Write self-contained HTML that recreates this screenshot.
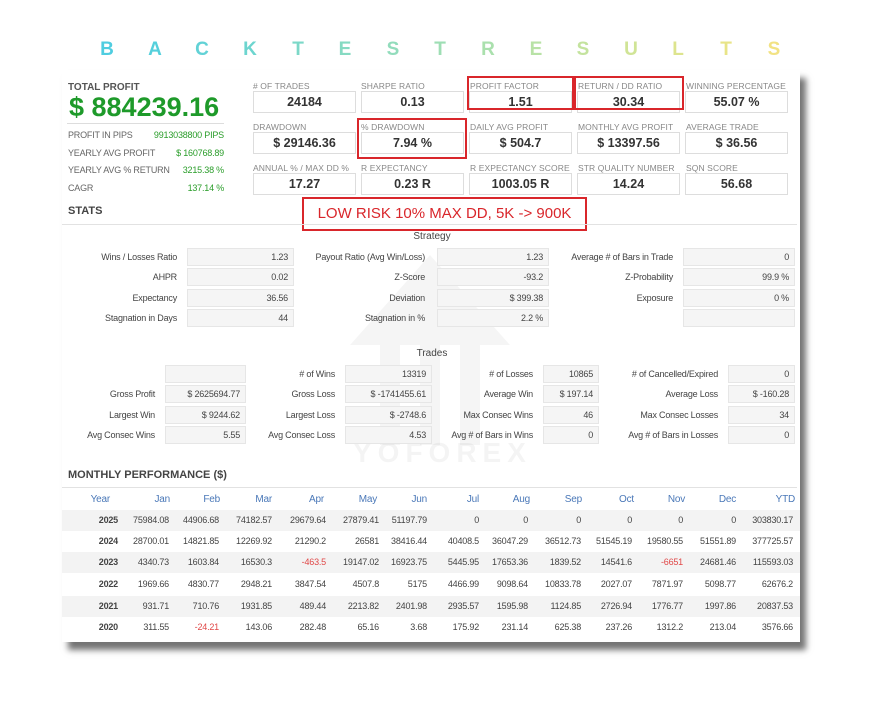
<!DOCTYPE html>
<html><head><meta charset="utf-8"><style>
*{margin:0;padding:0;box-sizing:border-box}
body{width:873px;height:720px;background:#fff;position:relative;overflow:hidden;font-family:"Liberation Sans",Arial,sans-serif;color:#444}
.a{position:absolute;white-space:nowrap}
.t{position:absolute;top:39px;font-size:19px;font-weight:bold;width:30px;text-align:center}
.card{position:absolute;left:62px;top:70px;width:738px;height:572px;background:#fff;box-shadow:6px 8px 6px rgba(0,0,0,0.55)}
.kl{position:absolute;font-size:8.5px;color:#888;letter-spacing:0.1px}
.kb{position:absolute;width:103px;height:22px;border:1px solid #ddd;font-size:12.5px;font-weight:bold;color:#333;text-align:center;line-height:21px}
.red{position:absolute;border:2px solid #d9262b}
.sl{position:absolute;font-size:9px;color:#444;text-align:right;line-height:18px;height:18px;letter-spacing:-0.2px}
.sb{position:absolute;height:18px;background:#f5f5f5;border:1px solid #e6e6e6;font-size:9px;color:#444;text-align:right;padding-right:5px;line-height:17px;letter-spacing:-0.2px}
.gl{position:absolute;font-size:9px;color:#666;letter-spacing:-0.2px}
.gv{position:absolute;font-size:9px;color:#2a9d2a;text-align:right;letter-spacing:-0.2px}
.row{position:absolute;left:62px;width:738px;height:21px}
.c{position:absolute;font-size:9px;color:#444;text-align:right;width:70px;line-height:21px;letter-spacing:-0.2px}
.h{color:#4a78b8;font-size:10px}
</style></head><body>
<div class="t" style="left:92px;color:#4fcde0">B</div>
<div class="t" style="left:140px;color:#55d0dc">A</div>
<div class="t" style="left:187px;color:#62d2d6">C</div>
<div class="t" style="left:235px;color:#6dd5cf">K</div>
<div class="t" style="left:283px;color:#7cd8c8">T</div>
<div class="t" style="left:330px;color:#86dac2">E</div>
<div class="t" style="left:378px;color:#92dcbc">S</div>
<div class="t" style="left:425px;color:#9edeb4">T</div>
<div class="t" style="left:473px;color:#aae0ad">R</div>
<div class="t" style="left:521px;color:#b8e2a6">E</div>
<div class="t" style="left:568px;color:#c4e39e">S</div>
<div class="t" style="left:616px;color:#d0e496">U</div>
<div class="t" style="left:663px;color:#dde48e">L</div>
<div class="t" style="left:711px;color:#e8e488">T</div>
<div class="t" style="left:759px;color:#f2e283">S</div>

<div class="card"></div>
<svg class="a" style="left:330px;top:245px" width="200" height="220" viewBox="0 0 200 220">
<path d="M100 10 L180 100 L150 100 L150 200 L130 200 L130 100 L110 100 L110 200 L90 200 L90 100 L70 100 L70 200 L50 200 L50 100 L20 100 Z" fill="#000" opacity="0.04"/>
</svg>
<div class="a" style="left:353px;top:437px;font-size:28px;color:#000;opacity:0.04;letter-spacing:6px;font-weight:bold">YOFOREX</div>

<div class="a" style="left:68px;top:82px;font-size:10px;font-weight:bold;color:#555">TOTAL PROFIT</div>
<div class="a" style="left:69px;top:92px;font-size:27px;font-weight:bold;color:#1e9a2a">$ 884239.16</div>
<div class="a" style="left:67px;top:123px;width:157px;height:1px;background:#ddd"></div>
<div class="gl" style="left:68px;top:130px">PROFIT IN PIPS</div><div class="gv" style="left:140px;width:84px;top:130px">9913038800 PIPS</div>
<div class="gl" style="left:68px;top:148px">YEARLY AVG PROFIT</div><div class="gv" style="left:150px;width:74px;top:148px">$ 160768.89</div>
<div class="gl" style="left:68px;top:165px">YEARLY AVG % RETURN</div><div class="gv" style="left:170px;width:54px;top:165px">3215.38 %</div>
<div class="gl" style="left:68px;top:183px">CAGR</div><div class="gv" style="left:170px;width:54px;top:183px">137.14 %</div>

<div class="kl" style="left:253px;top:81px"># OF TRADES</div><div class="kb" style="left:253px;top:91px">24184</div>
<div class="kl" style="left:361px;top:81px">SHARPE RATIO</div><div class="kb" style="left:361px;top:91px">0.13</div>
<div class="kl" style="left:470px;top:81px">PROFIT FACTOR</div><div class="kb" style="left:469px;top:91px">1.51</div>
<div class="kl" style="left:578px;top:81px">RETURN / DD RATIO</div><div class="kb" style="left:577px;top:91px">30.34</div>
<div class="kl" style="left:686px;top:81px">WINNING PERCENTAGE</div><div class="kb" style="left:685px;top:91px">55.07 %</div>

<div class="kl" style="left:253px;top:122px">DRAWDOWN</div><div class="kb" style="left:253px;top:132px">$ 29146.36</div>
<div class="kl" style="left:361px;top:122px">% DRAWDOWN</div><div class="kb" style="left:361px;top:132px">7.94 %</div>
<div class="kl" style="left:470px;top:122px">DAILY AVG PROFIT</div><div class="kb" style="left:469px;top:132px">$ 504.7</div>
<div class="kl" style="left:578px;top:122px">MONTHLY AVG PROFIT</div><div class="kb" style="left:577px;top:132px">$ 13397.56</div>
<div class="kl" style="left:686px;top:122px">AVERAGE TRADE</div><div class="kb" style="left:685px;top:132px">$ 36.56</div>

<div class="kl" style="left:253px;top:163px">ANNUAL % / MAX DD %</div><div class="kb" style="left:253px;top:173px">17.27</div>
<div class="kl" style="left:361px;top:163px">R EXPECTANCY</div><div class="kb" style="left:361px;top:173px">0.23 R</div>
<div class="kl" style="left:470px;top:163px">R EXPECTANCY SCORE</div><div class="kb" style="left:469px;top:173px">1003.05 R</div>
<div class="kl" style="left:578px;top:163px">STR QUALITY NUMBER</div><div class="kb" style="left:577px;top:173px">14.24</div>
<div class="kl" style="left:686px;top:163px">SQN SCORE</div><div class="kb" style="left:685px;top:173px">56.68</div>

<div class="red" style="left:467px;top:76px;width:107px;height:34px"></div>
<div class="red" style="left:574px;top:76px;width:110px;height:34px"></div>
<div class="red" style="left:357px;top:118px;width:110px;height:41px"></div>
<div class="red" style="left:302px;top:197px;width:285px;height:34px"></div>
<div class="a" style="left:302px;top:205px;width:285px;text-align:center;font-size:15px;color:#d9262b">LOW RISK 10% MAX DD, 5K -&gt; 900K</div>

<div class="a" style="left:68px;top:205px;font-size:11px;font-weight:bold;color:#444">STATS</div>
<div class="a" style="left:62px;top:224px;width:735px;height:1px;background:#e2e2e2"></div>
<div class="a" style="left:390px;top:231px;width:84px;text-align:center;font-size:10px;color:#444">Strategy</div>

<div class="sl" style="left:62px;width:115px;top:248px">Wins / Losses Ratio</div><div class="sb" style="left:187px;width:107px;top:248px">1.23</div>
<div class="sl" style="left:295px;width:130px;top:248px">Payout Ratio (Avg Win/Loss)</div><div class="sb" style="left:437px;width:112px;top:248px">1.23</div>
<div class="sl" style="left:550px;width:123px;top:248px">Average # of Bars in Trade</div><div class="sb" style="left:683px;width:112px;top:248px">0</div>
<div class="sl" style="left:62px;width:115px;top:268px">AHPR</div><div class="sb" style="left:187px;width:107px;top:268px">0.02</div>
<div class="sl" style="left:295px;width:130px;top:268px">Z-Score</div><div class="sb" style="left:437px;width:112px;top:268px">-93.2</div>
<div class="sl" style="left:550px;width:123px;top:268px">Z-Probability</div><div class="sb" style="left:683px;width:112px;top:268px">99.9 %</div>
<div class="sl" style="left:62px;width:115px;top:289px">Expectancy</div><div class="sb" style="left:187px;width:107px;top:289px">36.56</div>
<div class="sl" style="left:295px;width:130px;top:289px">Deviation</div><div class="sb" style="left:437px;width:112px;top:289px">$ 399.38</div>
<div class="sl" style="left:550px;width:123px;top:289px">Exposure</div><div class="sb" style="left:683px;width:112px;top:289px">0 %</div>
<div class="sl" style="left:62px;width:115px;top:309px">Stagnation in Days</div><div class="sb" style="left:187px;width:107px;top:309px">44</div>
<div class="sl" style="left:295px;width:130px;top:309px">Stagnation in %</div><div class="sb" style="left:437px;width:112px;top:309px">2.2 %</div>
<div class="sb" style="left:683px;width:112px;top:309px"></div>

<div class="a" style="left:400px;top:348px;width:64px;text-align:center;font-size:10px;color:#444">Trades</div>

<div class="sb" style="left:165px;width:81px;top:365px"></div>
<div class="sl" style="left:250px;width:85px;top:365px"># of Wins</div><div class="sb" style="left:345px;width:87px;top:365px">13319</div>
<div class="sl" style="left:440px;width:93px;top:365px"># of Losses</div><div class="sb" style="left:543px;width:56px;top:365px">10865</div>
<div class="sl" style="left:600px;width:118px;top:365px"># of Cancelled/Expired</div><div class="sb" style="left:728px;width:67px;top:365px">0</div>
<div class="sl" style="left:62px;width:93px;top:385px">Gross Profit</div><div class="sb" style="left:165px;width:81px;top:385px">$ 2625694.77</div>
<div class="sl" style="left:250px;width:85px;top:385px">Gross Loss</div><div class="sb" style="left:345px;width:87px;top:385px">$ -1741455.61</div>
<div class="sl" style="left:440px;width:93px;top:385px">Average Win</div><div class="sb" style="left:543px;width:56px;top:385px">$ 197.14</div>
<div class="sl" style="left:600px;width:118px;top:385px">Average Loss</div><div class="sb" style="left:728px;width:67px;top:385px">$ -160.28</div>
<div class="sl" style="left:62px;width:93px;top:406px">Largest Win</div><div class="sb" style="left:165px;width:81px;top:406px">$ 9244.62</div>
<div class="sl" style="left:250px;width:85px;top:406px">Largest Loss</div><div class="sb" style="left:345px;width:87px;top:406px">$ -2748.6</div>
<div class="sl" style="left:440px;width:93px;top:406px">Max Consec Wins</div><div class="sb" style="left:543px;width:56px;top:406px">46</div>
<div class="sl" style="left:600px;width:118px;top:406px">Max Consec Losses</div><div class="sb" style="left:728px;width:67px;top:406px">34</div>
<div class="sl" style="left:62px;width:93px;top:426px">Avg Consec Wins</div><div class="sb" style="left:165px;width:81px;top:426px">5.55</div>
<div class="sl" style="left:250px;width:85px;top:426px">Avg Consec Loss</div><div class="sb" style="left:345px;width:87px;top:426px">4.53</div>
<div class="sl" style="left:440px;width:93px;top:426px">Avg # of Bars in Wins</div><div class="sb" style="left:543px;width:56px;top:426px">0</div>
<div class="sl" style="left:600px;width:118px;top:426px">Avg # of Bars in Losses</div><div class="sb" style="left:728px;width:67px;top:426px">0</div>

<div class="a" style="left:68px;top:469px;font-size:11px;font-weight:bold;color:#444">MONTHLY PERFORMANCE ($)</div>
<div class="a" style="left:62px;top:487px;width:735px;height:1px;background:#e2e2e2"></div>

<div class="row" style="top:489px">
<div class="c h" style="left:-22px">Year</div><div class="c h" style="left:38px">Jan</div><div class="c h" style="left:88px">Feb</div><div class="c h" style="left:140px">Mar</div><div class="c h" style="left:192px">Apr</div><div class="c h" style="left:245px">May</div><div class="c h" style="left:295px">Jun</div><div class="c h" style="left:347px">Jul</div><div class="c h" style="left:398px">Aug</div><div class="c h" style="left:450px">Sep</div><div class="c h" style="left:502px">Oct</div><div class="c h" style="left:553px">Nov</div><div class="c h" style="left:604px">Dec</div><div class="c h" style="left:663px">YTD</div>
</div>
<div class="row" style="top:510px;background:#f3f3f3">
<div class="c" style="left:-14px;font-weight:bold">2025</div><div class="c" style="left:37px">75984.08</div><div class="c" style="left:87px">44906.68</div><div class="c" style="left:140px">74182.57</div><div class="c" style="left:194px">29679.64</div><div class="c" style="left:247px">27879.41</div><div class="c" style="left:295px">51197.79</div><div class="c" style="left:347px">0</div><div class="c" style="left:396px">0</div><div class="c" style="left:449px">0</div><div class="c" style="left:500px">0</div><div class="c" style="left:551px">0</div><div class="c" style="left:604px">0</div><div class="c" style="left:661px">303830.17</div>
</div>
<div class="row" style="top:531px">
<div class="c" style="left:-14px;font-weight:bold">2024</div><div class="c" style="left:37px">28700.01</div><div class="c" style="left:87px">14821.85</div><div class="c" style="left:140px">12269.92</div><div class="c" style="left:194px">21290.2</div><div class="c" style="left:247px">26581</div><div class="c" style="left:295px">38416.44</div><div class="c" style="left:347px">40408.5</div><div class="c" style="left:396px">36047.29</div><div class="c" style="left:449px">36512.73</div><div class="c" style="left:500px">51545.19</div><div class="c" style="left:551px">19580.55</div><div class="c" style="left:604px">51551.89</div><div class="c" style="left:661px">377725.57</div>
</div>
<div class="row" style="top:552px;background:#f3f3f3">
<div class="c" style="left:-14px;font-weight:bold">2023</div><div class="c" style="left:37px">4340.73</div><div class="c" style="left:87px">1603.84</div><div class="c" style="left:140px">16530.3</div><div class="c" style="left:194px;color:#e04848">-463.5</div><div class="c" style="left:247px">19147.02</div><div class="c" style="left:295px">16923.75</div><div class="c" style="left:347px">5445.95</div><div class="c" style="left:396px">17653.36</div><div class="c" style="left:449px">1839.52</div><div class="c" style="left:500px">14541.6</div><div class="c" style="left:551px;color:#e04848">-6651</div><div class="c" style="left:604px">24681.46</div><div class="c" style="left:661px">115593.03</div>
</div>
<div class="row" style="top:574px">
<div class="c" style="left:-14px;font-weight:bold">2022</div><div class="c" style="left:37px">1969.66</div><div class="c" style="left:87px">4830.77</div><div class="c" style="left:140px">2948.21</div><div class="c" style="left:194px">3847.54</div><div class="c" style="left:247px">4507.8</div><div class="c" style="left:295px">5175</div><div class="c" style="left:347px">4466.99</div><div class="c" style="left:396px">9098.64</div><div class="c" style="left:449px">10833.78</div><div class="c" style="left:500px">2027.07</div><div class="c" style="left:551px">7871.97</div><div class="c" style="left:604px">5098.77</div><div class="c" style="left:661px">62676.2</div>
</div>
<div class="row" style="top:596px;background:#f3f3f3">
<div class="c" style="left:-14px;font-weight:bold">2021</div><div class="c" style="left:37px">931.71</div><div class="c" style="left:87px">710.76</div><div class="c" style="left:140px">1931.85</div><div class="c" style="left:194px">489.44</div><div class="c" style="left:247px">2213.82</div><div class="c" style="left:295px">2401.98</div><div class="c" style="left:347px">2935.57</div><div class="c" style="left:396px">1595.98</div><div class="c" style="left:449px">1124.85</div><div class="c" style="left:500px">2726.94</div><div class="c" style="left:551px">1776.77</div><div class="c" style="left:604px">1997.86</div><div class="c" style="left:661px">20837.53</div>
</div>
<div class="row" style="top:617px">
<div class="c" style="left:-14px;font-weight:bold">2020</div><div class="c" style="left:37px">311.55</div><div class="c" style="left:87px;color:#e04848">-24.21</div><div class="c" style="left:140px">143.06</div><div class="c" style="left:194px">282.48</div><div class="c" style="left:247px">65.16</div><div class="c" style="left:295px">3.68</div><div class="c" style="left:347px">175.92</div><div class="c" style="left:396px">231.14</div><div class="c" style="left:449px">625.38</div><div class="c" style="left:500px">237.26</div><div class="c" style="left:551px">1312.2</div><div class="c" style="left:604px">213.04</div><div class="c" style="left:661px">3576.66</div>
</div>
</body></html>
